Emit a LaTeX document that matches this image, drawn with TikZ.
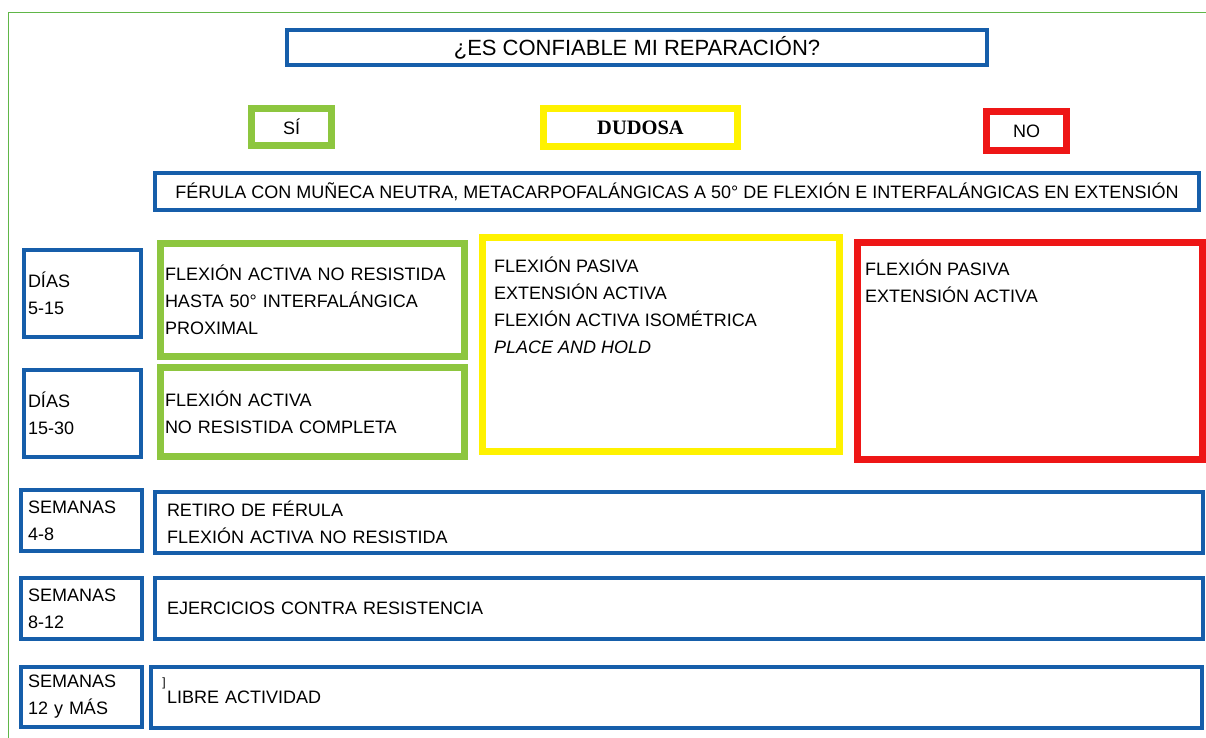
\documentclass[tikz,border=0pt]{standalone}
\usepackage{fontspec}
\setmainfont{Liberation Sans}
\newfontfamily\serifa{Liberation Serif}
\usetikzlibrary{positioning}
\definecolor{azul}{RGB}{22,94,170}
\definecolor{verde}{RGB}{141,198,63}
\definecolor{amarillo}{RGB}{255,242,0}
\definecolor{rojo}{RGB}{238,22,22}
\definecolor{marco}{RGB}{96,182,72}
\tikzset{%
  letra/.style={font=\fontsize{18}{27}\selectfont},
  cajaazul/.style={draw=azul, line width=4pt, inner ysep=0pt, letra},
  cajagruesa/.style={line width=7pt, inner ysep=0pt, letra},
  izq/.style n args={4}{minimum width=#1, minimum height=#2, text width=#3, inner xsep=#4, align=left}
}

\begin{document}
\begin{tikzpicture}[x=1pt, y=-1pt]
  \useasboundingbox (0,0) rectangle (1206,738);
  \draw [marco, line width=1.5pt] (8.5,12.5) rectangle (1215,745);

% cabecera
\node [cajaazul, minimum width=700, minimum height=35, font=\fontsize{22}{26}\selectfont] (pregunta) at (637,47.5) {¿ES CONFIABLE MI REPARACIÓN?};
\node [cajagruesa, draw=verde, minimum width=80, minimum height=37] (si) at (291.5,127) {SÍ};
\node [cajagruesa, draw=amarillo, minimum width=194, minimum height=38, font=\serifa\bfseries\fontsize{20.5}{24}\selectfont] (dudosa) at (640.5,127.5) {DUDOSA};
\node [cajagruesa, draw=rojo, minimum width=80, minimum height=39] (no) at (1026.5,131) {NO};
\node [cajaazul, minimum width=1044, minimum height=37] (ferula) at (677,191.5) {FÉRULA CON MUÑECA NEUTRA, METACARPOFALÁNGICAS A 50° DE FLEXIÓN E INTERFALÁNGICAS EN EXTENSIÓN};

% dias
\node [cajaazul, izq={117}{87}{109}{4}] (dias1) at (82.5,293.5) {DÍAS\\5-15};
\node [cajaazul, izq={117}{87}{109}{4}] (dias2) at (82.5,413.5) {DÍAS\\15-30};
\node [cajagruesa, draw=verde, izq={304}{113}{295}{4.5}] (verde1) at (312.5,300) {FLEXIÓN ACTIVA NO RESISTIDA\\HASTA 50° INTERFALÁNGICA\\PROXIMAL};
\node [cajagruesa, draw=verde, izq={304}{89}{295}{4.5}] (verde2) at (312.5,412) {FLEXIÓN ACTIVA\\NO RESISTIDA COMPLETA};
\node [cajagruesa, draw=amarillo, minimum width=357, minimum height=214] (amarillo1) at (661,344.5) {};
\node [cajagruesa, draw=rojo, minimum width=345, minimum height=217] (rojo1) at (1030,351) {};
\node [letra, align=left, inner sep=0pt, anchor=north west] (tduda) at (494,257) {FLEXIÓN PASIVA\\EXTENSIÓN ACTIVA\\FLEXIÓN ACTIVA ISOMÉTRICA\\\itshape PLACE AND HOLD};
\node [letra, align=left, inner sep=0pt, anchor=north west] (tno) at (865,260) {FLEXIÓN PASIVA\\EXTENSIÓN ACTIVA};

% semanas
\node [cajaazul, izq={121}{61}{107}{7}] (sem1) at (81.5,520.5) {SEMANAS\\4-8};
\node [cajaazul, izq={1048}{61}{1024}{12}] (fila1) at (679,522.5) {RETIRO DE FÉRULA\\FLEXIÓN ACTIVA NO RESISTIDA};
\node [cajaazul, izq={121}{61}{107}{7}] (sem2) at (81.5,608.5) {SEMANAS\\8-12};
\node [cajaazul, izq={1048}{61}{1024}{12}] (fila2) at (679,608.5) {EJERCICIOS CONTRA RESISTENCIA};
\node [cajaazul, izq={121}{60}{107}{7}] (sem3) at (81.5,697) {SEMANAS\\12 y MÁS};
\node [cajaazul, izq={1051}{61}{1019}{16}] (fila3) at (676.5,697.5) {LIBRE ACTIVIDAD};
\node [font=\fontsize{12}{14}\selectfont, inner sep=0pt] (marca) at (164,683) {]};
\end{tikzpicture}
\end{document}
